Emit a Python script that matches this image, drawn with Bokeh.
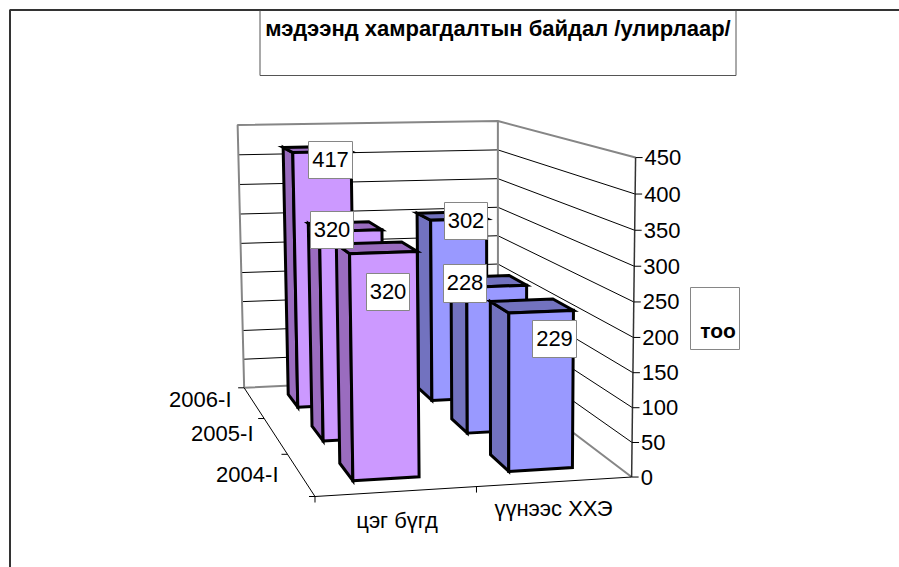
import numpy as np
from bokeh.core.properties import value
from bokeh.embed import file_html
from bokeh.models import Range1d
from bokeh.plotting import figure
from bokeh.resources import INLINE

# ---- data ----
title = "мэдээнд хамрагдалтын байдал /улирлаар/"
y_title = "тоо"
categories = ["цэг бүгд", "үүнээс ХХЭ"]
periods = ["2004-I", "2005-I", "2006-I"]        # front to back
point_total = [320, 320, 417]
of_which_llc = [229, 228, 302]
value_ticks = [0, 50, 100, 150, 200, 250, 300, 350, 400, 450]
value_max = 450

# ---- style ----
FONT = value("Liberation Sans")
FACE = {0: ("#CC99FF", "#9A6CBF"), 1: ("#9999FF", "#7272BF")}
GRAY = "#868686"
BAR_FRAC = 0.42

# anchor points of the 3D box: (across, depth from the front, height) -> page pixel
ANCHORS = [
    ((0, 0, 0), (315, 498)), ((1, 0, 0), (629, 475)), ((1, 1, 0), (500, 377)),
    ((0, 1, 0), (243, 386)), ((0, 1, 1), (238, 125)), ((1, 1, 1), (495, 120)),
    ((1, 0, 1), (637, 157)), ((0, 1 / 3, 0), (287, 454)), ((0, 2 / 3, 0), (263, 417)),
    ((0.5, 0, 0), (476, 486)),
]
rows = []
for (a, b, c), (x, y) in ANCHORS:
    x, y = x / 1000, y / 1000
    rows.append([a, b, c, 1, 0, 0, 0, 0, -x * a, -x * b, -x * c, -x])
    rows.append([0, 0, 0, 0, a, b, c, 1, -y * a, -y * b, -y * c, -y])
M = np.linalg.svd(np.array(rows, float))[2][-1].reshape(3, 4)


def proj(u, v, h):
    q = M @ np.array([u, v, h, 1.0])
    return q[0] / q[2] * 1000, q[1] / q[2] * 1000


p = figure(width=899, height=567, output_backend="svg", toolbar_location=None,
           x_range=Range1d(0, 899), y_range=Range1d(567, 0),
           x_axis_type=None, y_axis_type=None, min_border=0, outline_line_color=None)
p.grid.visible = False


def seg(a, b, color="black", width=1.0):
    p.line([a[0], b[0]], [a[1], b[1]], line_color=color, line_width=width)


def txt(x, y, s, size, align="center", style="normal"):
    p.text([x], [y], text=[s], text_font=FONT, text_font_size=size, text_font_style=style,
           text_align=align, text_baseline="middle", text_color="black")


def box(x0, y0, x1, y1, color=GRAY, width=1.0):
    p.patch([x0, x1, x1, x0], [y0, y0, y1, y1], fill_color="white",
            line_color=color, line_width=width)


# chart frame
p.line([9.5, 9.5, 899], [567, 9.5, 9.5], line_color="#333333", line_width=2)

# title box
p.line([259.5, 259.5, 735.5, 735.5], [10, 75, 75, 10], line_color="#555555", line_width=1)
txt(497.5, 28, title, "22px", style="bold")

# gridlines on the walls
for t in value_ticks[1:-1]:
    h = t / value_max
    p.line(*zip(proj(0, 1, h), proj(1, 1, h), proj(1, 0, h)), line_color="black", line_width=1)

# walls' gray edges
p.line(*zip(proj(0, 1, 0), proj(0, 1, 1), proj(1, 1, 1), proj(1, 0, 1)), line_color=GRAY, line_width=2)
seg(proj(1, 1, 0), proj(1, 1, 1), GRAY, 2)
p.line(*zip(proj(0, 1, 0), proj(1, 1, 0), proj(1, 0, 0)), line_color=GRAY, line_width=2)

# axes
seg(proj(1, 0, 0), proj(1, 0, 1), "#333333", 1.5)
seg(proj(0, 1, 0), proj(0, 0, 0), "black", 1)
seg(proj(0, 0, 0), proj(1, 0, 0), "black", 1)

for t in value_ticks:
    x, y = proj(1, 0, t / value_max)
    seg((x, y), (x + 7, y), "black", 1)
    txt(x + 9, y, str(t), "22px", align="left")
for d in range(len(periods) + 1):
    x, y = proj(0, d / len(periods), 0)
    seg((x, y), (x - 6, y), "black", 1)
for u in (0, 0.5):
    x, y = proj(u, 0, 0)
    seg((x, y), (x, y + 6), "black", 1)

# axis labels
for name, x, y in zip(periods, [278, 253, 231], [474, 433, 399]):
    txt(x, y, name, "22px", align="right")
for name, x, y in zip(categories, [396.5, 553], [520, 508]):
    txt(x, y, name, "22px")

# bars, back to front
series = [point_total, of_which_llc]
for d in reversed(range(len(periods))):
    for c in (1, 0):
        h = series[c][d] / value_max
        cu, cv = (c + 0.5) / 2, (d + 0.5) / 3
        hu, hv = BAR_FRAC / 4, BAR_FRAC / 6
        u0, u1, v0, v1 = cu - hu, cu + hu, cv - hv, cv + hv
        faces = [
            [proj(u0, v1, 0), proj(u0, v0, 0), proj(u0, v0, h), proj(u0, v1, h)],
            [proj(u0, v1, h), proj(u1, v1, h), proj(u1, v0, h), proj(u0, v0, h)],
            [proj(u0, v0, 0), proj(u1, v0, 0), proj(u1, v0, h), proj(u0, v0, h)],
        ]
        p.patches([[q[0] for q in f] for f in faces], [[q[1] for q in f] for f in faces],
                  fill_color=[FACE[c][1], FACE[c][1], FACE[c][0]],
                  line_color="black", line_width=3, line_join="miter")

# data labels: (series, period) -> box on the page
LABEL_BOXES = {
    (0, 2): (308, 141, 352, 178), (0, 1): (310, 211, 353, 248), (0, 0): (366, 273, 409, 310),
    (1, 2): (444, 202, 487, 239), (1, 1): (443, 264, 486, 302), (1, 0): (532, 320, 576, 357),
}
for (c, d), (x0, y0, x1, y1) in LABEL_BOXES.items():
    box(x0, y0, x1, y1)
    txt((x0 + x1) / 2, (y0 + y1) / 2 - 1, str(series[c][d]), "22px")

# value axis title
box(690, 287, 739, 349)
txt(717.5, 330, y_title, "21px", style="bold")

open("out.html", "w").write(file_html(p, INLINE))
